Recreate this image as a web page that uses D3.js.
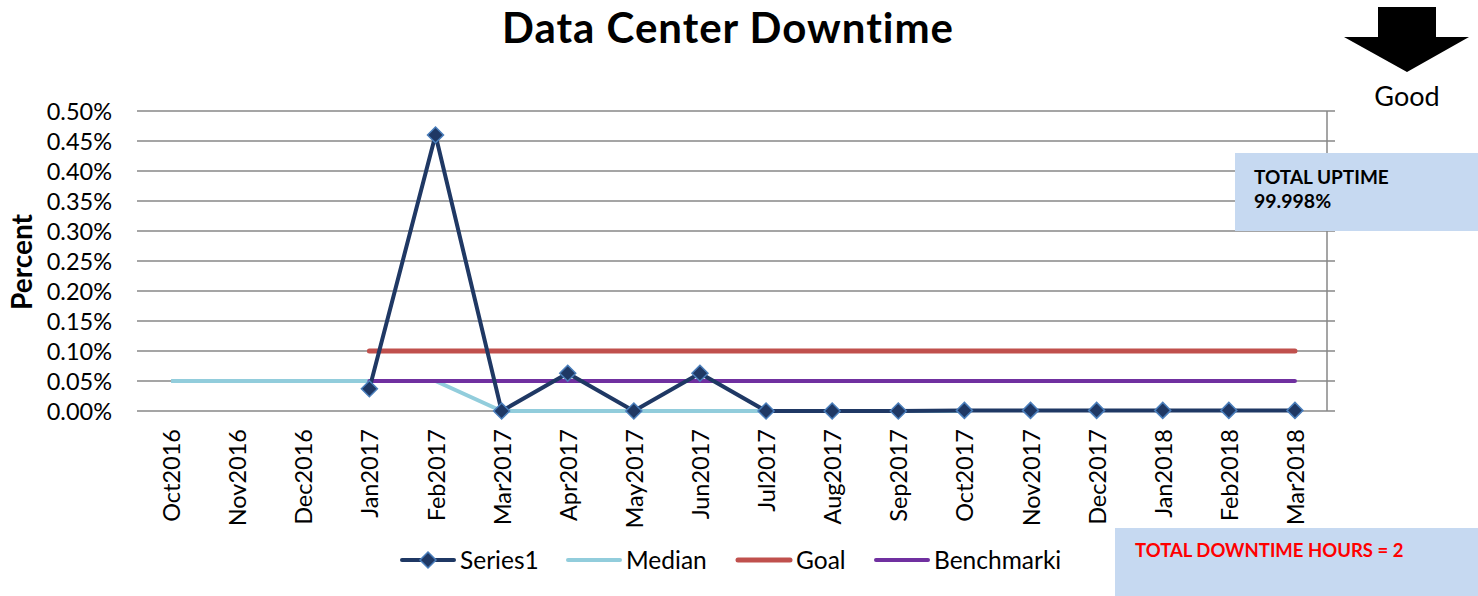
<!DOCTYPE html>
<html><head><meta charset="utf-8">
<script src="https://cdn.jsdelivr.net/npm/d3@7"></script>
<style>body{margin:0;background:#fff}svg{display:block}text{font-family:Lato,"Open Sans",sans-serif}</style>
</head><body><svg id="c" width="1478" height="596"></svg>
<script>
const categories=["Oct2016","Nov2016","Dec2016","Jan2017","Feb2017","Mar2017","Apr2017","May2017","Jun2017","Jul2017","Aug2017","Sep2017","Oct2017","Nov2017","Dec2017","Jan2018","Feb2018","Mar2018"];
const series1=[null,null,null,0.037,0.46,0,0.063,0,0.063,0,0,0,0.001,0.001,0.001,0.001,0.001,0.001];
const median=[0.05,0.05,0.05,0.05,0.05,0,0,0,0,0,0,0,0,null,null,null,null,null];
const goal=[null,null,null,0.1,0.1,0.1,0.1,0.1,0.1,0.1,0.1,0.1,0.1,0.1,0.1,0.1,0.1,0.1];
const benchmark=[null,null,null,0.05,0.05,0.05,0.05,0.05,0.05,0.05,0.05,0.05,0.05,0.05,0.05,0.05,0.05,0.05];
const yTicks=[0,0.05,0.1,0.15,0.2,0.25,0.3,0.35,0.4,0.45,0.5];

const svg=d3.select("#c");
const x=d3.scalePoint().domain(categories).range([138,1328]).padding(0.5);
const y=d3.scaleLinear().domain([0,0.5]).range([411,111]);

// title
svg.append("text").attr("x",728).attr("y",43).attr("text-anchor","middle")
  .attr("font-size",42).attr("font-weight","bold").attr("letter-spacing",1).text("Data Center Downtime");

// gridlines
const g=svg.append("g");
g.selectAll("line.grid").data(yTicks).join("line")
  .attr("x1",137).attr("x2",1335).attr("y1",d=>y(d)).attr("y2",d=>y(d))
  .attr("stroke","#878787").attr("stroke-width",1.5);
g.append("line").attr("x1",1327).attr("x2",1327).attr("y1",y(0.5)).attr("y2",y(0))
  .attr("stroke","#878787").attr("stroke-width",1.5);

// y labels
svg.append("g").selectAll("text").data(yTicks).join("text")
  .attr("x",112).attr("y",d=>y(d)+8.5).attr("text-anchor","end").attr("font-size",23.5)
  .text(d=>d3.format(".2f")(d)+"%");
svg.append("text").attr("transform","translate(32,262) rotate(-90)").attr("text-anchor","middle")
  .attr("font-size",28).attr("font-weight","bold").text("Percent");

// x labels
svg.append("g").selectAll("text").data(categories).join("text")
  .attr("transform",d=>`translate(${x(d)+9},429) rotate(-90)`).attr("text-anchor","end")
  .attr("font-size",23.5).text(d=>d);

const line=d3.line().defined(d=>d.v!=null).x(d=>x(d.c)).y(d=>y(d.v));
const mk=arr=>arr.map((v,i)=>({c:categories[i],v}));
svg.append("path").datum(mk(median)).attr("d",line).attr("fill","none").attr("stroke","#92CDDC").attr("stroke-width",4);
svg.append("path").datum(mk(goal)).attr("d",line).attr("fill","none").attr("stroke","#C0504D").attr("stroke-width",5).attr("stroke-linecap","round");
svg.append("path").datum(mk(benchmark)).attr("d",line).attr("fill","none").attr("stroke","#7030A0").attr("stroke-width",4).attr("stroke-linecap","round");
svg.append("path").datum(mk(series1)).attr("d",line).attr("fill","none").attr("stroke","#1F3864").attr("stroke-width",4).attr("stroke-linejoin","round");
const diamond="M0,-8L8,0L0,8L-8,0Z";
svg.append("g").selectAll("path").data(mk(series1).filter(d=>d.v!=null)).join("path")
  .attr("transform",d=>`translate(${x(d.c)},${y(d.v)})`).attr("d",diamond)
  .attr("fill","#1F3864").attr("stroke","#4A7EBB").attr("stroke-width",1.5);

// legend
const leg=[{n:"Series1",c:"#1F3864",x:402,w:4,m:true},{n:"Median",c:"#92CDDC",x:568,w:4},{n:"Goal",c:"#C0504D",x:738,w:5},{n:"Benchmarki",c:"#7030A0",x:876,w:4}];
const lg=svg.append("g");
leg.forEach(l=>{
  lg.append("line").attr("x1",l.x).attr("x2",l.x+52).attr("y1",560).attr("y2",560).attr("stroke",l.c).attr("stroke-width",l.w).attr("stroke-linecap","round");
  if(l.m) lg.append("path").attr("transform",`translate(${l.x+26},560)`).attr("d",diamond).attr("fill","#1F3864").attr("stroke","#4A7EBB").attr("stroke-width",1.5);
  lg.append("text").attr("x",l.x+58).attr("y",568.5).attr("font-size",24.5).text(l.n);
});

// arrow
svg.append("path").attr("d","M1378,7L1436,7L1436,37L1469,37L1407,72L1344,37L1378,37Z").attr("fill","#000");
svg.append("text").attr("x",1407).attr("y",106).attr("text-anchor","middle").attr("font-size",27).text("Good");

// boxes
svg.append("rect").attr("x",1235).attr("y",153).attr("width",243).attr("height",78).attr("fill","#C6D9F1");
svg.append("text").attr("x",1254).attr("y",184).attr("font-size",19).attr("font-weight","bold").text("TOTAL UPTIME");
svg.append("text").attr("x",1254).attr("y",208).attr("font-size",19.5).attr("font-weight","bold").text("99.998%");
svg.append("rect").attr("x",1115).attr("y",528).attr("width",363).attr("height",68).attr("fill","#C6D9F1");
svg.append("text").attr("x",1135).attr("y",557).attr("font-size",18.5).attr("font-weight","bold").attr("fill","#FF0000").text("TOTAL DOWNTIME HOURS = 2");
</script></body></html>
